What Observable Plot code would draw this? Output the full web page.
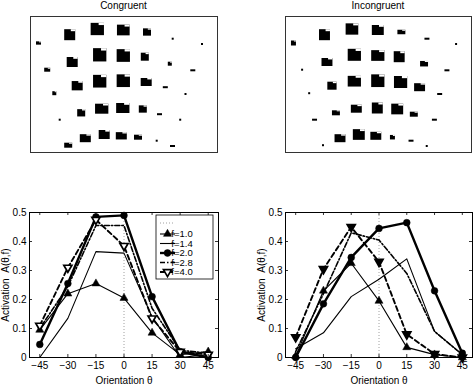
<!DOCTYPE html>
<html><head><meta charset="utf-8">
<script src="https://cdn.jsdelivr.net/npm/d3@7"></script>
<script src="https://cdn.jsdelivr.net/npm/@observablehq/plot@0.6"></script>
<style>
body{margin:0;background:#fff;}
#root{position:relative;width:474px;height:385px;font-family:"Liberation Sans",Arial,Helvetica,sans-serif;overflow:hidden;background:#fff;}
.p{position:absolute;}
.t{position:absolute;font-size:10px;line-height:12px;text-align:center;color:#000;}
</style></head><body><div id="root"></div>
<script>
// ---------- line-chart data ----------
const theta = [-45, -30, -15, 0, 15, 30, 45];
const fLabels = ["f=1.0", "f=1.4", "f=2.0", "f=2.8", "f=4.0"];
const yTicks = [0, 0.1, 0.2, 0.3, 0.4, 0.5];

const congF10 = [0.095, 0.22, 0.255, 0.205, 0.085, 0.01, 0.02];
const congF14 = [0.0, 0.135, 0.365, 0.36, 0.14, 0.0, 0.01];
const congF20 = [0.045, 0.255, 0.485, 0.49, 0.21, 0.02, 0.0];
const congF28 = [0.10, 0.245, 0.455, 0.455, 0.17, 0.025, 0.015];
const congF40 = [0.11, 0.31, 0.475, 0.385, 0.135, 0.02, 0.01];

const incF10 = [0.005, 0.23, 0.325, 0.195, 0.035, 0.01, 0.0];
const incF14 = [0.03, 0.085, 0.21, 0.27, 0.34, 0.09, 0.01];
const incF20 = [0.0, 0.185, 0.345, 0.445, 0.465, 0.23, 0.015];
const incF28 = [0.02, 0.22, 0.43, 0.405, 0.29, 0.09, 0.01];
const incF40 = [0.07, 0.305, 0.45, 0.33, 0.08, 0.012, 0.0];

// ---------- stimulus-grid data (layout units, 5 rows x 7 columns) ----------
const gridX = [
  [8.5, 39.7, 67.3, 93.3, 117, 142.7, 172],
  [17.2, 42.2, 69.7, 93.3, 114.8, 139.8, 162.8],
  [24.3, 47.2, 69.7, 93.3, 116.2, 135.3, 155.5],
  [29.7, 51.2, 71.7, 92.8, 112.8, 129.5, 150.2],
  [38.2, 55.3, 74.2, 91.3, 108, 126.7, 142.5]
];
const gridY = [
  [27, 18.7, 13, 14, 16, 22.7, 28],
  [53.7, 46, 38.8, 39.5, 40.7, 47.7, 54.3],
  [77.2, 69.7, 65.2, 64.7, 66, 71.2, 78],
  [103.7, 96.8, 92.7, 92, 93, 98.2, 103.7],
  [129.2, 122.2, 118.5, 119.8, 121.2, 124.7, 130]
];
const congW = [
  [5, 11, 13.3, 12.7, 8, 2, 2],
  [6, 11, 13.3, 13.3, 8, 4, 5],
  [4, 11, 13.3, 13.3, 11, 5, 2],
  [2, 8, 13.3, 13.3, 8, 5, 2],
  [8, 11, 11, 11, 8, 2, 5]
];
const congH = [
  [3.3, 11, 12.3, 10.7, 7.3, 2, 2],
  [4, 10, 13.3, 12.7, 8, 4, 2],
  [4, 9.3, 12.7, 12.7, 8, 2, 2],
  [2, 7.3, 10, 10, 7.3, 2, 2],
  [5, 8, 9, 7.3, 5, 2, 2]
];
const incW = [
  [5, 11, 12.7, 12, 8, 5, 2],
  [2, 11, 13.3, 13.3, 11, 8, 5],
  [2, 9.3, 13.3, 13.3, 13.3, 11, 5],
  [5, 8, 11, 11, 12, 8, 5],
  [2, 11, 12, 11, 5, 5, 2]
];
const incH = [
  [5, 11, 11.3, 10, 4.5, 2, 2],
  [2, 8, 12, 10.7, 11, 5.5, 2],
  [2, 8, 10.7, 12.7, 12, 8, 2],
  [2, 5, 8, 11, 10.7, 5, 2],
  [2, 8, 10.7, 8, 4.5, 2, 2]
];

// ---------- styles ----------
const sqrt3 = Math.sqrt(3);
const triangleDown = {
  draw(ctx, size) {
    const y = -Math.sqrt(size / (sqrt3 * 3));
    ctx.moveTo(0, -y * 2);
    ctx.lineTo(-sqrt3 * y, y);
    ctx.lineTo(sqrt3 * y, y);
    ctx.closePath();
  }
};
const styles = {
  "f=1.0": {w: 1.1, dash: null, symbol: d3.symbolTriangle, r: 3.0, fill: "black", sw: 0.5},
  "f=1.4": {w: 1.1, dash: null},
  "f=2.0": {w: 2.4, dash: null, symbol: d3.symbolCircle, r: 3.4, fill: "black", sw: 0.5},
  "f=2.8": {w: 1.6, dash: "5,2,1.5,2"},
  "f=4.0": {w: 1.9, dash: "5,3", symbol: triangleDown, r: 3.0, fill: "white", sw: 1.7}
};

const root = document.getElementById("root");
const FONT = '"Liberation Sans", Arial, Helvetica, sans-serif';

function place(el, left, top) {
  el.classList.add("p");
  el.style.left = left + "px";
  el.style.top = top + "px";
  root.appendChild(el);
}
function title(text, cx, top) {
  const d = document.createElement("div");
  d.className = "t";
  d.textContent = text;
  d.style.left = (cx - 60) + "px";
  d.style.width = "120px";
  d.style.top = top + "px";
  root.appendChild(d);
}

function gridPanel(Wv, Hv, ml, mr) {
  const cells = [];
  for (let r = 0; r < 5; r++) for (let c = 0; c < 7; c++)
    cells.push({x: gridX[r][c], y: gridY[r][c], w: Wv[r][c], h: Hv[r][c]});
  const notched = cells.filter(d => d.w >= 4 && d.h >= 3);
  return Plot.plot({
    width: 237, height: 160,
    marginTop: 16, marginBottom: 8, marginLeft: ml, marginRight: mr,
    x: {domain: [0, 187], axis: null},
    y: {domain: [136, 0], axis: null},
    style: {fontFamily: FONT, background: "white"},
    marks: [
      Plot.rect(cells, {
        x1: d => d.x - d.w / 2, x2: d => d.x + d.w / 2,
        y1: d => d.y - d.h / 2, y2: d => d.y + d.h / 2,
        fill: "black"
      }),
      // notch in the upper-right corner of each patch
      Plot.rect(notched, {
        x1: d => d.x + d.w * 0.1, x2: d => d.x + d.w / 2,
        y1: d => d.y - d.h / 2, y2: d => d.y - d.h / 2 + Math.max(1, d.h * 0.18),
        fill: "white"
      }),
      Plot.frame({stroke: "#333", strokeWidth: 1})
    ]
  });
}

function legendMark(index, scales, values, dims) {
  const g = d3.create("svg:g");
  const bw = 57, bh = 64;
  const bx = dims.width - dims.marginRight - 5 - bw;
  const by = dims.marginTop + 3;
  g.append("rect").attr("x", bx).attr("y", by).attr("width", bw).attr("height", bh)
    .attr("fill", "white").attr("stroke", "black").attr("stroke-width", 0.8);
  const rowY = [8, 19, 28.5, 38, 47.5, 57].map(v => by + v);
  g.append("line").attr("x1", bx + 4).attr("x2", bx + 19).attr("y1", rowY[0]).attr("y2", rowY[0])
    .attr("stroke", "#888").attr("stroke-width", 0.8).attr("stroke-dasharray", "1,2");
  fLabels.forEach((f, i) => {
    const s = styles[f];
    const y = rowY[i + 1];
    g.append("line").attr("x1", bx + 4).attr("x2", bx + 19).attr("y1", y).attr("y2", y)
      .attr("stroke", "black").attr("stroke-width", s.w)
      .attr("stroke-dasharray", s.dash);
    if (s.symbol) {
      g.append("path").attr("transform", `translate(${bx + 11.5},${y})`)
        .attr("d", d3.symbol().type(s.symbol).size(s.r * s.r * Math.PI)())
        .attr("fill", s.fill).attr("stroke", "black").attr("stroke-width", s.sw);
    }
    g.append("text").attr("x", bx + 26).attr("y", y).attr("dy", "0.35em")
      .attr("font-size", 9.5).attr("fill", "black").text(f);
  });
  return g.node();
}

function linePanel(series, ml, mr, withLegend, downFill) {
  const W = 237, H = 185, mt = 12, mb = 28;
  const fh = H - mt - mb, fw = W - ml - mr;
  const marks = [
    Plot.ruleX([0], {stroke: "#888", strokeWidth: 0.8, strokeDasharray: "1,2"})
  ];
  fLabels.forEach((f, i) => {
    const s = styles[f];
    const d = theta.map((t, j) => ({theta: t, a: series[i][j]}));
    marks.push(Plot.line(d, {x: "theta", y: "a", stroke: "black", strokeWidth: s.w, strokeDasharray: s.dash}));
    if (s.symbol) {
      const fill = s.symbol === triangleDown ? downFill : s.fill;
      marks.push(Plot.dot(d, {x: "theta", y: "a", symbol: s.symbol, r: s.r, fill, stroke: "black", strokeWidth: s.sw}));
    }
  });
  marks.push(
    Plot.tickX(theta, {insetTop: fh - 3, stroke: "black", strokeWidth: 0.8}),
    Plot.tickX(theta, {insetBottom: fh - 3, stroke: "black", strokeWidth: 0.8}),
    Plot.tickY(yTicks, {insetRight: fw - 3, stroke: "black", strokeWidth: 0.8}),
    Plot.tickY(yTicks, {insetLeft: fw - 3, stroke: "black", strokeWidth: 0.8}),
    Plot.axisX(theta, {tickSize: 0, tickPadding: 4, fontSize: 10,
      tickFormat: d => d < 0 ? "\u2212" + Math.abs(d) : String(d),
      label: "Orientation \u03b8", labelAnchor: "center", labelArrow: "none", labelOffset: 26}),
    Plot.axisY(yTicks, {tickSize: 0, tickPadding: 3, fontSize: 10,
      tickFormat: d => d === 0 ? "0" : d.toFixed(1),
      label: "Activation\u00a0\u00a0A(\u03b8,f)", labelAnchor: "center", labelArrow: "none", labelOffset: 28}),
    Plot.frame({stroke: "black", strokeWidth: 1})
  );
  if (withLegend) marks.push(legendMark);
  return Plot.plot({
    width: W, height: H,
    marginTop: mt, marginBottom: mb, marginLeft: ml, marginRight: mr,
    x: {domain: [-50.5, 50.5]},
    y: {domain: [0, 0.5]},
    style: {fontFamily: FONT, fontSize: "10px", background: "white", color: "black"},
    marks
  });
}

place(gridPanel(congW, congH, 30, 20), 0, 0);
place(gridPanel(incW, incH, 48, 3), 237, 0);
place(linePanel([congF10, congF14, congF20, congF28, congF40], 29, 19, true, "white"), 0, 200);
place(linePanel([incF10, incF14, incF20, incF28, incF40], 48, 2, false, "black"), 237, 200);
title("Congruent", 123.5, 0);
title("Incongruent", 378, 0);
</script>
</body></html>
